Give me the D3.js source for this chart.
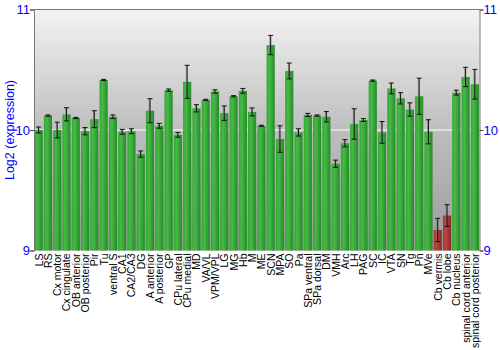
<!DOCTYPE html>
<html>
<head>
<meta charset="utf-8">
<script src="https://cdn.jsdelivr.net/npm/d3@7"></script>
<style>
body { margin: 0; background: #fff; }
svg text { font-family: "Liberation Sans", Arial, sans-serif; }
</style>
</head>
<body>
<div id="chart"></div>
<script>
// regions along the x axis
var regions = ['LS', 'RS', 'Cx motor', 'Cx cingulate', 'OB anterior', 'OB posterior', 'Pir', 'Tu',
    'ventral S', 'CA1', 'CA2/CA3', 'DG', 'A anterior', 'A posterior', 'GP', 'CPu lateral', 'CPu medial',
    'MD', 'VA/VL', 'VPM/VPL', 'LG', 'MG', 'Hb', 'M', 'ME', 'SCN', 'MPA', 'SO', 'Pa', 'SPa ventral',
    'SPa dorsal', 'DM', 'VMH', 'Arc', 'LH', 'PAG', 'SC', 'IC', 'VTA', 'SN', 'Tg', 'Pn', 'MVe',
    'Cb vermis', 'Cb lobe', 'Cb nucleus', 'spinal cord anterior', 'spinal cord posterior'];

// log2 expression per region
var values = [10.0, 10.12, 10.0, 10.13, 10.10, 9.99, 10.09, 10.415, 10.11, 9.985, 9.99, 9.80,
    10.16, 10.035, 10.33, 9.96, 10.40, 10.18, 10.25, 10.32, 10.14, 10.28, 10.325, 10.15, 10.035,
    10.705, 9.925, 10.49, 9.98, 10.125, 10.12, 10.11, 9.72, 9.89, 10.05, 10.083, 10.41, 9.98,
    10.345, 10.263, 10.17, 10.28, 9.985, 9.17, 9.29, 10.31, 10.44, 10.38];

// error (+/-)
var errors = [0.025, 0.005, 0.065, 0.055, 0.005, 0.03, 0.07, 0.005, 0.015, 0.02, 0.02, 0.026,
    0.1, 0.02, 0.01, 0.02, 0.137, 0.03, 0.005, 0.014, 0.06, 0.005, 0.02, 0.033, 0.005,
    0.08, 0.11, 0.066, 0.03, 0.013, 0.005, 0.043, 0.03, 0.03, 0.126, 0.012, 0.005, 0.09,
    0.045, 0.047, 0.055, 0.15, 0.1, 0.097, 0.09, 0.02, 0.08, 0.123];

// regions drawn in red
var lowRegions = ['Cb vermis', 'Cb lobe'];

var yTicks = [9, 10, 11];

var W = 500, H = 350;
var plotLeft = 34, plotRight = 479.5, plotTop = 9.5, plotBottom = 250.5;

var svg = d3.select('#chart').append('svg')
    .attr('width', W)
    .attr('height', H);

var defs = svg.append('defs');

var bg = defs.append('linearGradient').attr('id', 'bgGrad')
    .attr('x1', 0).attr('y1', 0).attr('x2', 0).attr('y2', 1);
bg.append('stop').attr('offset', '0%').attr('stop-color', '#f3f3f3');
bg.append('stop').attr('offset', '50%').attr('stop-color', '#bebebe');
bg.append('stop').attr('offset', '100%').attr('stop-color', '#9a9a9a');

function barGradient(id, c1, c2, c3) {
    var g = defs.append('linearGradient').attr('id', id)
        .attr('x1', 0).attr('y1', 0).attr('x2', 1).attr('y2', 0);
    g.append('stop').attr('offset', '0%').attr('stop-color', c1);
    g.append('stop').attr('offset', '35%').attr('stop-color', c2);
    g.append('stop').attr('offset', '100%').attr('stop-color', c3);
}
barGradient('greenGrad', '#34a534', '#45bb45', '#26882a');
barGradient('redGrad', '#a83434', '#bb4545', '#8a2626');

var x = d3.scaleBand()
    .domain(regions)
    .range([plotLeft, plotRight])
    .paddingInner(0.12)
    .paddingOuter(0.06);

var y = d3.scaleLinear()
    .domain([9, 11])
    .range([plotBottom, plotTop]);

// plot background
svg.append('rect')
    .attr('x', plotLeft).attr('y', plotTop)
    .attr('width', plotRight - plotLeft).attr('height', plotBottom - plotTop)
    .attr('fill', 'url(#bgGrad)');

// gridline at 10
svg.append('line')
    .attr('x1', plotLeft).attr('x2', plotRight)
    .attr('y1', y(10)).attr('y2', y(10))
    .attr('stroke', '#fff').attr('stroke-width', 1.2);

var data = regions.map(function(r, i) {
    return {name: r, v: values[i], e: errors[i]};
});

// bars
svg.append('g').selectAll('rect')
    .data(data)
    .enter().append('rect')
    .attr('x', d => x(d.name))
    .attr('width', x.bandwidth())
    .attr('y', d => y(d.v))
    .attr('height', d => y(9) - y(d.v))
    .attr('fill', d => lowRegions.indexOf(d.name) >= 0 ? 'url(#redGrad)' : 'url(#greenGrad)');

// error bars
var eb = svg.append('g').selectAll('g')
    .data(data)
    .enter().append('g')
    .attr('transform', d => 'translate(' + (x(d.name) + x.bandwidth() / 2) + ',0)');

eb.append('line')
    .attr('x1', -0.8).attr('x2', -0.8)
    .attr('y1', d => y(d.v + d.e)).attr('y2', d => y(d.v - d.e))
    .attr('stroke', '#777').attr('stroke-width', 1).attr('opacity', 0.7);
eb.append('line')
    .attr('x1', 0).attr('x2', 0)
    .attr('y1', d => y(d.v + d.e)).attr('y2', d => y(d.v - d.e))
    .attr('stroke', '#111').attr('stroke-width', 1);
eb.append('line')
    .attr('x1', -2.5).attr('x2', 2.5)
    .attr('y1', d => y(d.v + d.e)).attr('y2', d => y(d.v + d.e))
    .attr('stroke', '#111').attr('stroke-width', 1);
eb.append('line')
    .attr('x1', -2.5).attr('x2', 2.5)
    .attr('y1', d => y(d.v - d.e)).attr('y2', d => y(d.v - d.e))
    .attr('stroke', '#111').attr('stroke-width', 1);

// frame
svg.append('line')
    .attr('x1', plotLeft).attr('x2', plotRight)
    .attr('y1', plotTop).attr('y2', plotTop)
    .attr('stroke', '#777');

// axes
var leftAxis = svg.append('g')
    .attr('transform', 'translate(' + plotLeft + ',0)')
    .call(d3.axisLeft(y).tickValues(yTicks).tickSize(4).tickFormat(d3.format('d')));
var rightAxis = svg.append('g')
    .attr('transform', 'translate(' + plotRight + ',0)')
    .call(d3.axisRight(y).tickValues(yTicks).tickSize(4).tickFormat(d3.format('d')));

[leftAxis, rightAxis].forEach(function(a) {
    a.select('.domain').attr('stroke', '#777');
    a.selectAll('.tick line').attr('stroke', '#444');
    a.selectAll('.tick text')
        .attr('fill', '#0000ff')
        .style('font-size', '13px')
        .style('font-family', '"Liberation Sans", Arial, sans-serif');
});
leftAxis.selectAll('.tick text').attr('x', -4);
rightAxis.selectAll('.tick text').attr('x', 4);

// x labels
svg.append('g').selectAll('text')
    .data(regions)
    .enter().append('text')
    .attr('transform', d => 'translate(' + (x(d) + x.bandwidth() / 2 + 4) + ',' + (plotBottom + 3) + ') rotate(-90)')
    .attr('text-anchor', 'end')
    .attr('fill', '#000')
    .style('font-size', '10.5px')
    .text(d => d);

// y title
svg.append('text')
    .attr('transform', 'translate(14,' + y(10) + ') rotate(-90)')
    .attr('text-anchor', 'middle')
    .attr('fill', '#0000ff')
    .style('font-size', '12.5px')
    .text('Log2 (expression)');
</script>
</body>
</html>
